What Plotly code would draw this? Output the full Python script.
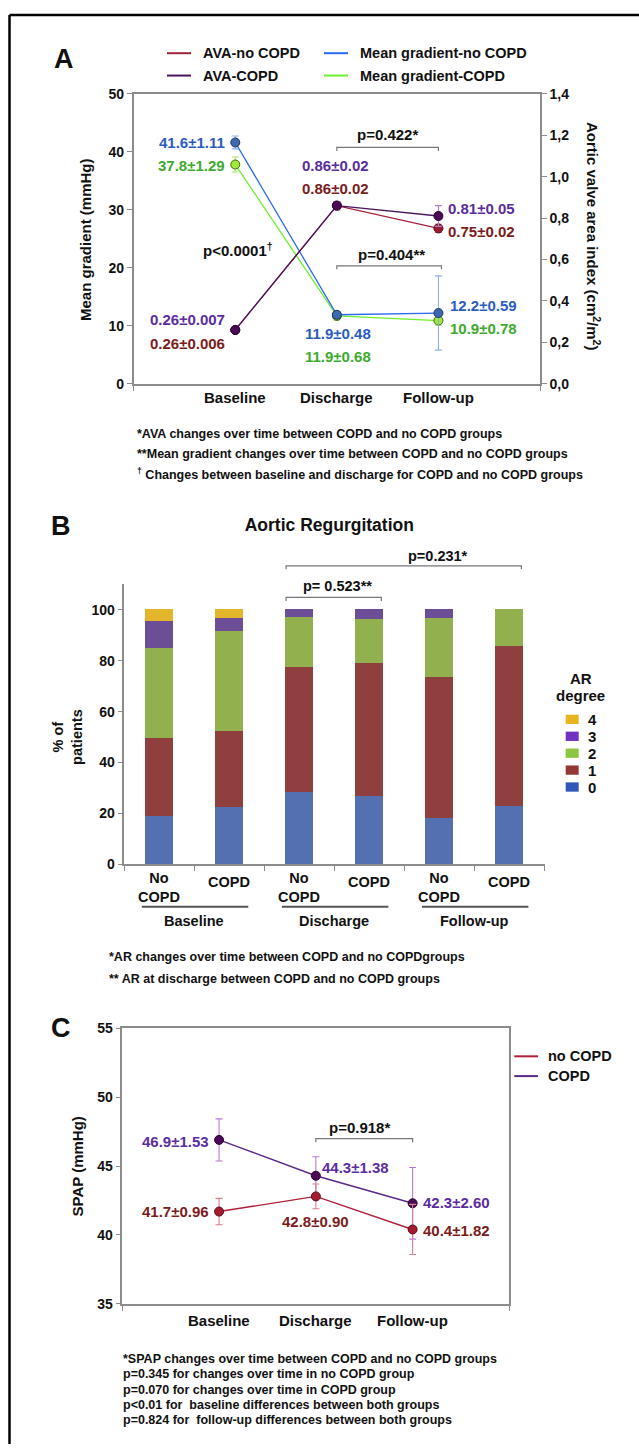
import plotly.graph_objects as go

W, H = 639, 1452
NARROW = "Liberation Sans, Arial, sans-serif"
WIDE = "Liberation Sans, Arial, sans-serif"

# ---------------- Panel A data ----------------
timepoints = ["Baseline", "Discharge", "Follow-up"]
mg_nocopd = [41.6, 11.9, 12.2]
mg_nocopd_err = [1.11, 0.48, 6.4]
mg_copd = [37.8, 11.7, 10.9]
mg_copd_err = [1.29, 0.68, 0.78]
ava_nocopd = [0.26, 0.86, 0.75]
ava_nocopd_err = [0.006, 0.02, 0.02]
ava_copd = [0.26, 0.86, 0.81]
ava_copd_err = [0.007, 0.02, 0.05]
mg_nocopd_lbl = ["41.6±1.11", "11.9±0.48", "12.2±0.59"]
mg_copd_lbl = ["37.8±1.29", "11.9±0.68", "10.9±0.78"]
ava_nocopd_lbl = ["0.26±0.006", "0.86±0.02", "0.75±0.02"]
ava_copd_lbl = ["0.26±0.007", "0.86±0.02", "0.81±0.05"]
a_left_ticks = [0, 10, 20, 30, 40, 50]
a_right_ticks = [0.0, 0.2, 0.4, 0.6, 0.8, 1.0, 1.2, 1.4]
a_right_ticktext = ["0,0", "0,2", "0,4", "0,6", "0,8", "1,0", "1,2", "1,4"]

# ---------------- Panel B data ----------------
ar_groups = ["No<br>COPD", "COPD", "No<br>COPD", "COPD", "No<br>COPD", "COPD"]
ar_periods = ["Baseline", "Discharge", "Follow-up"]
ar_degrees = ["0", "1", "2", "3", "4"]
ar_0 = [19.0, 22.3, 28.3, 26.7, 18.1, 22.9]
ar_1 = [30.5, 29.9, 49.2, 52.4, 55.5, 62.8]
ar_2 = [35.4, 39.4, 19.7, 17.3, 23.2, 14.3]
ar_3 = [10.5, 5.2, 2.8, 3.6, 3.2, 0.0]
ar_4 = [4.6, 3.2, 0.0, 0.0, 0.0, 0.0]
b_ticks = [0, 20, 40, 60, 80, 100]

# ---------------- Panel C data ----------------
spap_nocopd = [41.7, 42.8, 40.4]
spap_nocopd_err = [0.96, 0.90, 1.82]
spap_copd = [46.9, 44.3, 42.3]
spap_copd_err = [1.53, 1.38, 2.60]
spap_nocopd_lbl = ["41.7±0.96", "42.8±0.90", "40.4±1.82"]
spap_copd_lbl = ["46.9±1.53", "44.3±1.38", "42.3±2.60"]
c_ticks = [35, 40, 45, 50, 55]

# colours
C_BLUE_T, C_GREEN_T, C_PURP_T, C_RED_T = "#2b5cc0", "#3daa2e", "#5b2d9e", "#7b1c1c"
AR_BAR_COLORS = ["#5470b0", "#8f403e", "#93b04e", "#6b4e96", "#e3b52a"]
AR_LEG_COLORS = ["#3456b8", "#953735", "#8cc63f", "#7030c0", "#e8b520"]


def px(x):
    return x / W


def py(y):
    return 1 - y / H


fig = go.Figure()
annotations = []
shapes = []


def ann(text, x, y, color="#111", size=14, xanchor="center", yanchor="middle",
        family=NARROW, angle=0, xref="paper", bold=True):
    annotations.append(dict(
        text=f"<b>{text}</b>" if bold else text,
        x=x if xref != "paper" else px(x), y=py(y), xref=xref, yref="paper",
        xanchor=xanchor, yanchor=yanchor, showarrow=False, textangle=angle,
        font=dict(family=family, size=size, color=color)))


def hline(x0, x1, y, color, width=1.5, xref="paper"):
    shapes.append(dict(type="line", xref=xref, yref="paper",
                       x0=x0 if xref != "paper" else px(x0),
                       x1=x1 if xref != "paper" else px(x1),
                       y0=py(y), y1=py(y), line=dict(color=color, width=width)))


def bracket(x0, x1, y, xref, drop=3.5, color="#777"):
    path = (f"M {x0},{py(y + drop)} L {x0},{py(y)} L {x1},{py(y)} L {x1},{py(y + drop)}")
    shapes.append(dict(type="path", xref=xref, yref="paper", path=path,
                       line=dict(color=color, width=1.2)))


def err(arr, color):
    return dict(type="data", array=arr, visible=True, color=color, thickness=1.1, width=3.5)


xs = list(range(len(timepoints)))

# ---------------- Panel A traces ----------------
fig.add_trace(go.Scatter(x=xs, y=mg_copd, xaxis="x", yaxis="y", mode="lines+markers",
                         line=dict(color="#6cf02a", width=1.3),
                         marker=dict(size=9, color="#a0e83a", line=dict(color="#3d6a10", width=1)),
                         error_y=err(mg_copd_err, "#a8e870"), showlegend=False,
                         name="Mean gradient-COPD"))
fig.add_trace(go.Scatter(x=xs, y=mg_nocopd, xaxis="x", yaxis="y", mode="lines+markers",
                         line=dict(color="#2a6af0", width=1.3),
                         marker=dict(size=9, color="#3d6bb0", line=dict(color="#1c3360", width=1)),
                         error_y=err(mg_nocopd_err, "#8fb2e6"), showlegend=False,
                         name="Mean gradient-no COPD"))
fig.add_trace(go.Scatter(x=xs, y=ava_nocopd, xaxis="x", yaxis="y2", mode="lines+markers",
                         line=dict(color="#a3203a", width=1.3),
                         marker=dict(size=9, color="#9a1a2e", line=dict(color="#5a0a14", width=1)),
                         error_y=err(ava_nocopd_err, "#d07a8a"), showlegend=False,
                         name="AVA-no COPD"))
fig.add_trace(go.Scatter(x=xs, y=ava_copd, xaxis="x", yaxis="y2", mode="lines+markers",
                         line=dict(color="#4a1560", width=1.3),
                         marker=dict(size=9, color="#4b0a55", line=dict(color="#2a0430", width=1)),
                         error_y=err(ava_copd_err, "#b47fd0"), showlegend=False,
                         name="AVA-COPD"))

# ---------------- Panel B traces ----------------
ar_series = [ar_0, ar_1, ar_2, ar_3, ar_4]
bx = list(range(len(ar_groups)))
for deg, vals, col in zip(ar_degrees, ar_series, AR_BAR_COLORS):
    fig.add_trace(go.Bar(x=bx, y=vals, xaxis="x2", yaxis="y3", width=0.4,
                         marker=dict(color=col, line=dict(width=0)),
                         name=deg, showlegend=False))

# ---------------- Panel C traces ----------------
fig.add_trace(go.Scatter(x=xs, y=spap_copd, xaxis="x3", yaxis="y4", mode="lines+markers",
                         line=dict(color="#5a2a88", width=1.4),
                         marker=dict(size=9, color="#4b0a55", line=dict(color="#2a0430", width=1)),
                         error_y=err(spap_copd_err, "#b87ad8"), showlegend=False, name="COPD"))
fig.add_trace(go.Scatter(x=xs, y=spap_nocopd, xaxis="x3", yaxis="y4", mode="lines+markers",
                         line=dict(color="#b02038", width=1.4),
                         marker=dict(size=9, color="#a51c30", line=dict(color="#5a0a14", width=1)),
                         error_y=err(spap_nocopd_err, "#d9808f"), showlegend=False, name="no COPD"))

AXC = "#8c8c8c"
tickfont = dict(family=NARROW, size=14, color="#111", weight="bold")

# ---------------- Panel A annotations ----------------
ann("A", 64, 52, size=27, family=WIDE)
# legend A
for (lbl, col, lx, ly) in [("AVA-no COPD", "#a3203a", 167, 45.7), ("AVA-COPD", "#4a1560", 167, 68.3),
                           ("Mean gradient-no COPD", "#2a6af0", 324, 45.7),
                           ("Mean gradient-COPD", "#6cf02a", 324, 68.3)]:
    hline(lx, lx + 24, ly, col, width=2)
    ann(lbl, lx + 34, ly, size=14.5, xanchor="left")

ann(mg_nocopd_lbl[0], 227, 136, C_BLUE_T, 15, "right")
ann(mg_copd_lbl[0], 227, 159.3, C_GREEN_T, 15, "right")
ann(ava_copd_lbl[1], 335, 159.3, C_PURP_T, 15)
ann(ava_nocopd_lbl[1], 335, 182.7, C_RED_T, 15)
ann(ava_copd_lbl[2], 445.5, 202.3, C_PURP_T, 15, "left")
ann(ava_nocopd_lbl[2], 445.5, 226, C_RED_T, 15, "left")
ann("p=0.422*", 387.5, 128, "#111", 15)
ann("p&lt;0.0001<sup>†</sup>", 237.5, 244, "#111", 15)
ann("p=0.404**", 391.8, 249.3, "#111", 15)
ann(ava_copd_lbl[0], 227, 315.3, C_PURP_T, 15, "right")
ann(ava_nocopd_lbl[0], 227, 339, C_RED_T, 15, "right")
ann(mg_nocopd_lbl[1], 338, 329.3, C_BLUE_T, 15)
ann(mg_copd_lbl[1], 338, 352.7, C_GREEN_T, 15)
ann(mg_nocopd_lbl[2], 447.5, 301, C_BLUE_T, 15, "left")
ann(mg_copd_lbl[2], 447.5, 324.3, C_GREEN_T, 15, "left")
bracket(1, 2, 141, "x")
bracket(1, 2.03, 260.7, "x")
for i, t in enumerate(timepoints):
    annotations.append(dict(text=f"<b>{t}</b>", x=i, y=py(394.3), xref="x", yref="paper",
                            showarrow=False, xanchor="center", yanchor="middle",
                            font=dict(family=NARROW, size=15, color="#111")))
ann("Mean gradient (mmHg)", 85.6, 234, size=15, angle=-90)
ann("Aortic valve area index (cm<sup>2</sup>/m<sup>2</sup>)", 593, 230.5, size=15, angle=90)
ann("*AVA changes over time between COPD and no COPD groups", 134.5, 430.7, size=12.5, xanchor="left")
ann("**Mean gradient changes over time between COPD and no COPD groups", 134.5, 451, size=12.5, xanchor="left")
ann("<sup>†</sup> Changes between baseline and discharge for COPD and no COPD groups", 134.5, 471,
    size=12.5, xanchor="left")

# ---------------- Panel B annotations ----------------
ann("B", 61, 523.3, size=27, family=WIDE)
ann("% of<br>patients", 68, 737, size=14.5, angle=-90)
ann("p=0.231*", 438.3, 554.3, "#111", 14.5)
ann("p= 0.523**", 337.2, 584.7, "#111", 14.5)
bracket(1.81, 5.17, 564, "x2")
bracket(1.81, 3.17, 596, "x2")
for i, g in enumerate(ar_groups):
    annotations.append(dict(text=f"<b>{g}</b>", x=i, y=py(889.2 if "<br>" in g else 884),
                            xref="x2", yref="paper", showarrow=False, xanchor="center",
                            yanchor="middle",
                            font=dict(family=NARROW, size=14.5, color="#111")))
for gi, p in enumerate(ar_periods):
    hline(2 * gi - 0.25, 2 * gi + 1.27, 908.7, "#555", width=2, xref="x2")
    annotations.append(dict(text=f"<b>{p}</b>", x=2 * gi + 0.5, y=py(922.7), xref="x2", yref="paper",
                            showarrow=False, xanchor="center", yanchor="middle",
                            font=dict(family=NARROW, size=14.5, color="#111")))
ann("*AR changes over time between COPD and no COPDgroups", 106.8, 960, size=12.5, xanchor="left")
ann("** AR at discharge between COPD and no COPD groups", 106.8, 982.3, size=12.5, xanchor="left")
# legend B
ann("AR", 580.7, 677.7, size=15)
ann("degree", 580.7, 694.7, size=15)
for k, (deg, col) in enumerate(zip(reversed(ar_degrees), reversed(AR_LEG_COLORS))):
    yy = 719.3 + k * 17.1
    shapes.append(dict(type="rect", xref="paper", yref="paper", x0=px(565.7), x1=px(578.7),
                       y0=py(yy + 4.7), y1=py(yy - 4.7), fillcolor=col, line=dict(width=0)))
    ann(deg, 585.5, yy, size=15, xanchor="left")

# ---------------- Panel C annotations ----------------
ann("C", 61, 1031.7, size=27, family=WIDE)
ann(spap_copd_lbl[0], 211, 1145.7, C_PURP_T, 15, "right")
ann(spap_copd_lbl[1], 320, 1172.3, C_PURP_T, 15, "left")
ann(spap_copd_lbl[2], 420.6, 1208.3, C_PURP_T, 15, "left")
ann(spap_nocopd_lbl[0], 211, 1217.3, C_RED_T, 15, "right")
ann(spap_nocopd_lbl[1], 315, 1226.7, C_RED_T, 15)
ann(spap_nocopd_lbl[2], 420.6, 1235.7, C_RED_T, 15, "left")
ann("p=0.918*", 359.6, 1132.3, "#111", 15)
bracket(1, 2, 1143.3, "x3")
for i, t in enumerate(timepoints):
    annotations.append(dict(text=f"<b>{t}</b>", x=i, y=py(1327.3), xref="x3", yref="paper",
                            showarrow=False, xanchor="center", yanchor="middle",
                            font=dict(family=NARROW, size=15, color="#111")))
ann("SPAP (mmHg)", 77.4, 1171, size=15, angle=-90)
for (lbl, col, ly) in [("no COPD", "#b02038", 1060), ("COPD", "#5a2a88", 1080)]:
    hline(514.3, 538, ly, col, width=2)
    ann(lbl, 546, ly, size=14.5, xanchor="left")
c_notes = ["*SPAP changes over time between COPD and no COPD groups",
           "p=0.345 for changes over time in no COPD group",
           "p=0.070 for changes over time in COPD group",
           "p&lt;0.01 for  baseline differences between both groups",
           "p=0.824 for  follow-up differences between both groups"]
for k, t in enumerate(c_notes):
    ann(t.replace("  ", "&nbsp; "), 120.6, 1366 + k * 15.5, size=12.5, xanchor="left")

# frame (top and left edges)
shapes.append(dict(type="line", xref="paper", yref="paper", x0=px(9.5), x1=1, y0=py(7), y1=py(7),
                   line=dict(color="#000", width=2.5)))
shapes.append(dict(type="line", xref="paper", yref="paper", x0=px(9.5), x1=px(9.5), y0=py(7), y1=0,
                   line=dict(color="#000", width=2.5)))

axis_common = dict(showgrid=False, zeroline=False, linecolor=AXC, linewidth=1.5,
                   ticks="outside", tickcolor=AXC, ticklen=5, tickwidth=1.2, tickfont=tickfont)
xaxis_common = {k: v for k, v in axis_common.items() if k != "tickfont"}

fig.update_layout(
    width=W, height=H, autosize=False, margin=dict(l=0, r=0, t=0, b=0),
    paper_bgcolor="white", plot_bgcolor="white", showlegend=False,
    barmode="stack", bargap=0,
    font=dict(family=NARROW, color="#111"),
    title=dict(text="<b>Aortic Regurgitation</b>", x=px(329.3), y=py(523), xref="paper", yref="paper",
               xanchor="center", yanchor="middle",
               font=dict(family=NARROW, size=17.5, color="#111")),
    xaxis=dict(domain=[px(133.7), px(540)], range=[-1, 3], anchor="y", showline=True, mirror=True,
               tickvals=[-1, 3], showticklabels=False, **xaxis_common),
    yaxis=dict(domain=[py(380), py(86.7)], range=[0, 50], anchor="x", showline=True,
               tickvals=a_left_ticks, **axis_common),
    yaxis2=dict(overlaying="y", side="right", anchor="x", range=[0, 1.4], showline=True,
                tickvals=a_right_ticks, ticktext=a_right_ticktext, **axis_common),
    xaxis2=dict(domain=[px(124.3), px(544.5)], range=[-0.5, 5.5], anchor="y3", showline=True,
                tickvals=[v - 0.5 for v in range(len(ar_groups) + 1)], showticklabels=False,
                **xaxis_common),
    yaxis3=dict(domain=[py(866), py(582.7)], range=[0, 110], anchor="x2", showline=True,
                tickvals=b_ticks, **axis_common),
    xaxis3=dict(domain=[px(122.3), px(509.4)], range=[-1, 3], anchor="y4", showline=True, mirror=True,
                tickvals=[-1, 3], showticklabels=False, **xaxis_common),
    yaxis4=dict(domain=[py(1310.3), py(1031.7)], range=[35, 55], anchor="x3", showline=True, mirror=True,
                tickvals=c_ticks, **axis_common),
    annotations=annotations,
    shapes=shapes,
)

fig.write_html("out.html", config={"displayModeBar": False},
               post_script=("document.documentElement.style.margin='0';"
                            "document.documentElement.style.overflow='hidden';"
                            "document.body.style.margin='0';document.body.style.padding='0';"
                            "document.body.style.overflow='hidden';"))
